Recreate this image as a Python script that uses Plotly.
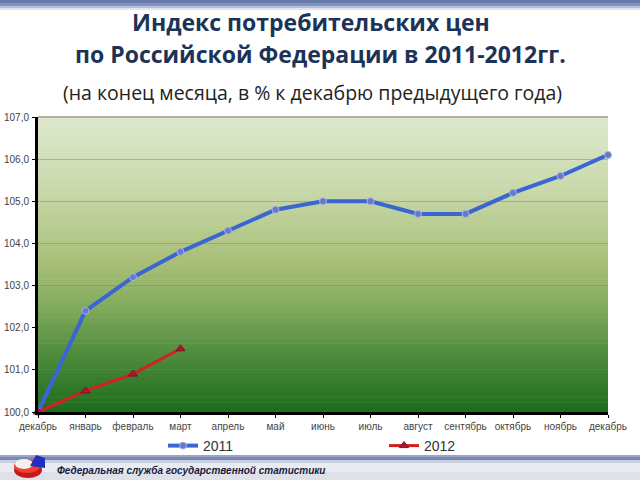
import plotly.graph_objects as go

months = ["декабрь", "январь", "февраль", "март", "апрель", "май", "июнь",
          "июль", "август", "сентябрь", "октябрь", "ноябрь", "декабрь"]
cpi_2011 = [100.0, 102.4, 103.2, 103.8, 104.3, 104.8, 105.0, 105.0, 104.7, 104.7, 105.2, 105.6, 106.1]
cpi_2012 = [100.0, 100.5, 100.9, 101.5]
y_ticks = [100, 101, 102, 103, 104, 105, 106, 107]

W, H = 640, 480
L, R, T, B = 38, 608, 117, 412
pw, ph = R - L, B - T

def px(x):
    return (x - L) / pw

def py(y):
    return (B - y) / ph

x_idx = list(range(len(months)))

fig = go.Figure()
fig.add_trace(go.Scatter(
    x=x_idx, y=cpi_2011, name="2011", mode="lines+markers",
    line=dict(color="#3a66d4", width=4),
    marker=dict(symbol="circle", size=7, color="#6a78c8", line=dict(color="#a8b4e8", width=1)),
    cliponaxis=False))
fig.add_trace(go.Scatter(
    x=x_idx[:len(cpi_2012)], y=cpi_2012, name="2012", mode="lines+markers",
    line=dict(color="#d42020", width=3),
    marker=dict(symbol="triangle-up", size=8, color="#b01830", line=dict(color="#801020", width=1)),
    cliponaxis=False))

shapes = []
stops = [(0.0, (223, 232, 207)), (0.25, (200, 216, 170)), (0.5, (168, 190, 118)),
         (0.65, (128, 170, 92)), (0.8, (80, 140, 62)), (1.0, (28, 108, 28))]

def interp(t):
    for i in range(len(stops) - 1):
        a, ca = stops[i]
        b, cb = stops[i + 1]
        if a <= t <= b:
            f = (t - a) / (b - a)
            return tuple(int(round(ca[k] + (cb[k] - ca[k]) * f)) for k in range(3))
    return stops[-1][1]

N = 60
for i in range(N):
    t = (i + 0.5) / N
    c = interp(t)
    shapes.append(dict(type="rect", xref="x domain", yref="y domain",
                       x0=0, x1=1, y0=1 - (i + 1) / N - 0.002, y1=1 - i / N,
                       fillcolor="rgb(%d,%d,%d)" % c, line=dict(width=0), layer="below"))
shapes.append(dict(type="line", xref="x domain", yref="y domain", x0=0, x1=1, y0=1, y1=1,
                   line=dict(color="#b0b0a0", width=2)))

hb = [(0, (104, 122, 172)), (3, (130, 146, 190)), (6, (180, 192, 218)), (8, (225, 230, 240))]
for i, (yy, c) in enumerate(hb):
    y2 = hb[i + 1][0] if i + 1 < len(hb) else 10
    shapes.append(dict(type="rect", xref="paper", yref="paper", x0=px(0), x1=px(W),
                       y0=py(y2), y1=py(yy), fillcolor="rgb(%d,%d,%d)" % c, line=dict(width=0)))
fb = [(455, (150, 165, 200)), (457, (120, 138, 180)), (460, (200, 208, 222)),
      (463, (232, 235, 240)), (472, (222, 226, 232))]
for i, (yy, c) in enumerate(fb):
    y2 = fb[i + 1][0] if i + 1 < len(fb) else 480
    shapes.append(dict(type="rect", xref="paper", yref="paper", x0=px(0), x1=px(W),
                       y0=py(y2), y1=py(yy), fillcolor="rgb(%d,%d,%d)" % c, line=dict(width=0)))

def ell(cx, cy, rx, ry):
    return dict(type="circle", xref="paper", yref="paper",
                x0=px(cx - rx), x1=px(cx + rx), y0=py(cy + ry), y1=py(cy - ry))

s = ell(28, 470, 14, 8); s.update(fillcolor="#c81818", line=dict(width=0)); shapes.append(s)
s = ell(27, 466, 13, 7); s.update(fillcolor="#f04030", line=dict(width=0)); shapes.append(s)
s = ell(24, 464, 9, 5); s.update(fillcolor="#f4f0f0", line=dict(width=0)); shapes.append(s)
path = "M %f,%f L %f,%f L %f,%f L %f,%f Z" % (px(30), py(466), px(36), py(455),
                                              px(45), py(458), px(45), py(468))
shapes.append(dict(type="path", xref="paper", yref="paper", path=path,
                   fillcolor="#2030c0", line=dict(width=0)))

annotations = [
    dict(text="<b>Индекс потребительских цен</b>", x=px(311), y=py(22), xref="paper", yref="paper",
         showarrow=False, font=dict(family="Open Sans, Arial", size=23, color="#1c3358"),
         xanchor="center", yanchor="middle"),
    dict(text="<b>по Российской Федерации в 2011-2012гг.</b>", x=px(320), y=py(54), xref="paper",
         yref="paper", showarrow=False, font=dict(family="Open Sans, Arial", size=23, color="#1c3358"),
         xanchor="center", yanchor="middle"),
    dict(text="(на конец месяца, в % к декабрю предыдущего года)", x=px(312), y=py(92),
         xref="paper", yref="paper", showarrow=False,
         font=dict(family="Open Sans, Arial", size=19.5, color="#222222"),
         xanchor="center", yanchor="middle"),
    dict(text="<b><i>Федеральная служба государственной статистики</i></b>", x=px(55), y=py(470),
         xref="paper", yref="paper", showarrow=False,
         font=dict(family="Liberation Sans, Arial", size=10, color="#1a1a40"),
         xanchor="left", yanchor="middle"),
]

fig.update_layout(
    width=W, height=H,
    margin=dict(l=L, r=W - R, t=T, b=H - B),
    paper_bgcolor="white", plot_bgcolor="rgba(0,0,0,0)",
    shapes=shapes, annotations=annotations,
    showlegend=True,
    legend=dict(orientation="h", x=px(163), y=py(430), xanchor="left", yanchor="top",
                entrywidth=176, entrywidthmode="pixels", bgcolor="rgba(0,0,0,0)",
                font=dict(family="Liberation Sans, Arial", size=14, color="#333333"),
                itemwidth=30, tracegroupgap=0),
    xaxis=dict(range=[0, 12], tickmode="array", tickvals=x_idx, ticktext=months,
               automargin=False,
               showgrid=False, zeroline=False, showline=True, linecolor="black", linewidth=3,
               ticks="outside", ticklen=3, tickcolor="black",
               tickfont=dict(family="Liberation Sans, Arial", size=10, color="#444444")),
    yaxis=dict(range=[100, 107], tickmode="array", tickvals=y_ticks,
               ticktext=[("%.1f" % v).replace(".", ",") for v in y_ticks],
               automargin=False,
               showgrid=True, gridcolor="rgba(120,130,100,0.45)", gridwidth=1,
               zeroline=False, showline=True, linecolor="black", linewidth=3,
               ticks="outside", ticklen=3, tickcolor="black", ticklabelstandoff=1,
               tickfont=dict(family="Liberation Sans, Arial", size=10, color="#444444")),
)

fig.write_html("out.html")
